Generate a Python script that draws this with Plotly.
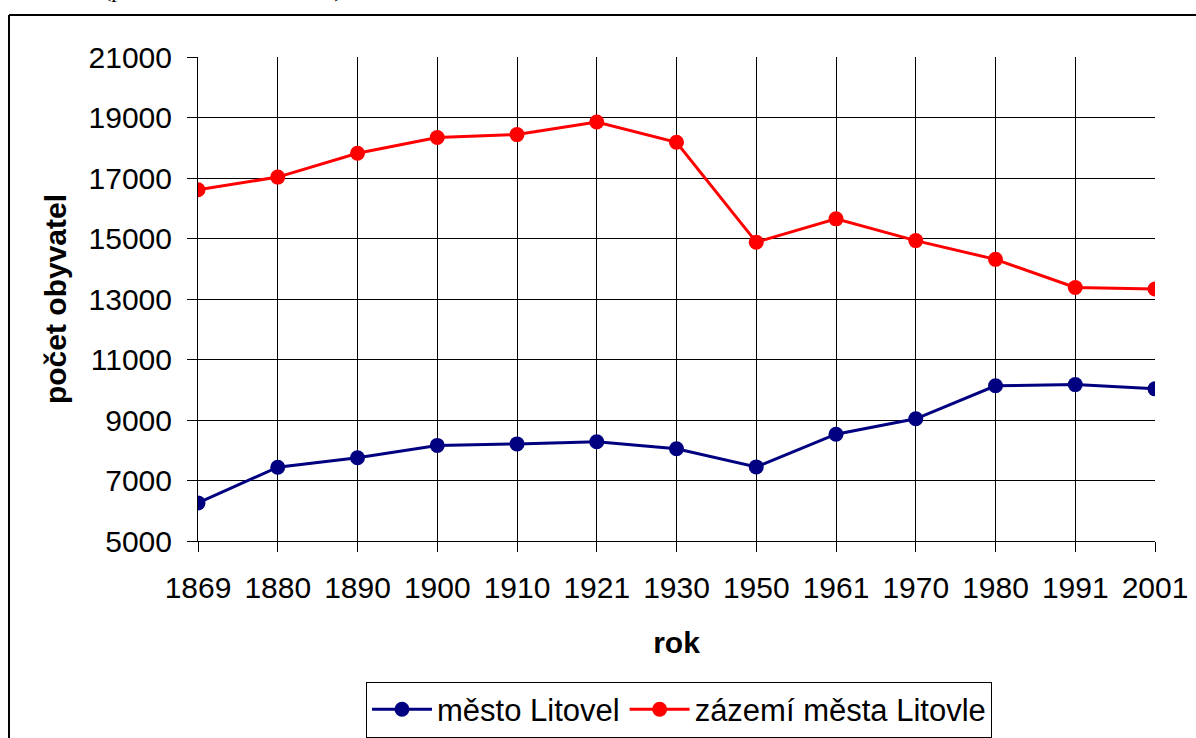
import plotly.graph_objects as go

years = ["1869", "1880", "1890", "1900", "1910", "1921", "1930",
         "1950", "1961", "1970", "1980", "1991", "2001"]
mesto_litovel = [6260, 7440, 7750, 8160, 8210, 8280, 8050,
                 7450, 8530, 9040, 10130, 10170, 10030]
zazemi_litovle = [16610, 17030, 17820, 18340, 18435, 18850, 18180,
                  14880, 15650, 14930, 14310, 13380, 13330]
series_names = ["město Litovel", "zázemí města Litovle"]
y_ticks = [5000, 7000, 9000, 11000, 13000, 15000, 17000, 19000, 21000]

FONT = "Liberation Sans, Arial, sans-serif"

fig = go.Figure()
fig.add_trace(go.Scatter(
    x=years, y=mesto_litovel, name=series_names[0], mode="lines+markers",
    line=dict(color="#000080", width=3),
    marker=dict(color="#000080", size=15),
))
fig.add_trace(go.Scatter(
    x=years, y=zazemi_litovle, name=series_names[1], mode="lines+markers",
    line=dict(color="#FF0000", width=3),
    marker=dict(color="#FF0000", size=15),
))

fig.update_layout(
    width=1196, height=738,
    margin=dict(l=198, r=41, t=57, b=196.5, autoexpand=False),
    paper_bgcolor="white", plot_bgcolor="white",
    font=dict(family=FONT, size=30, color="black"),
    showlegend=True,
    legend=dict(
        orientation="h", x=0.5026, xanchor="center", y=-0.2905, yanchor="top",
        bordercolor="black", borderwidth=1, bgcolor="white",
        font=dict(family=FONT, size=31, color="black"),
        itemwidth=60,
    ),
    xaxis=dict(
        type="category", range=[0, 12], automargin=False,
        showgrid=True, gridcolor="black", gridwidth=1,
        showline=True, linecolor="black", linewidth=1,
        ticks="outside", ticklen=10, tickcolor="black",
        ticklabelstandoff=10,
        tickfont=dict(family=FONT, size=30, color="black"),
        title=dict(text="<b>rok</b>", standoff=28,
                   font=dict(family=FONT, size=30, color="black")),
        fixedrange=True,
    ),
    yaxis=dict(
        range=[5000, 21000], tickvals=y_ticks, automargin=False,
        ticktext=[str(v) for v in y_ticks],
        showgrid=True, gridcolor="black", gridwidth=1, zeroline=False,
        showline=True, linecolor="black", linewidth=1,
        ticks="outside", ticklen=10, tickcolor="black",
        ticklabelstandoff=9,
        tickfont=dict(family=FONT, size=30, color="black"),
        title=dict(text="<b>počet obyvatel</b>", standoff=13,
                   font=dict(family=FONT, size=30, color="black")),
        fixedrange=True,
    ),
    shapes=[
        dict(type="line", xref="paper", yref="paper",
             x0=-0.1975, x1=1.2, y0=1.0867, y1=1.0867,
             line=dict(color="black", width=2)),
        dict(type="line", xref="paper", yref="paper",
             x0=-0.1975, x1=-0.1975, y0=1.0867, y1=-0.5,
             line=dict(color="black", width=2)),
    ],
    annotations=[
        dict(text="(pramen: sčítání lidu ČSÚ)", xref="paper", yref="paper",
             x=-0.1, y=1.139, xanchor="left", yanchor="middle",
             showarrow=False,
             font=dict(family="Liberation Serif, Times New Roman, serif",
                       size=22, color="black")),
    ],
)

fig.write_html(
    "out.html",
    config={"displayModeBar": False},
    post_script="document.body.style.margin='0';document.body.style.overflow='hidden';",
)
